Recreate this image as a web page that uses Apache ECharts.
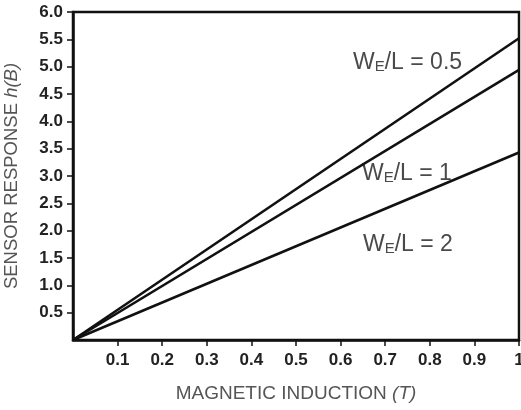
<!DOCTYPE html>
<html>
<head>
<meta charset="utf-8">
<script src="https://cdn.jsdelivr.net/npm/echarts@6/dist/echarts.min.js"></script>
<style>
html,body{margin:0;padding:0;background:#fff;}
#c{width:521px;height:410px;}
</style>
</head>
<body>
<div id="c"></div>
<script>
// Data
const xValues = [0, 1];
const seriesNames = ['0.5', '1', '2'];
const seriesValues = [
  [0, 5.52],
  [0, 4.94],
  [0, 3.43]
];
const xTicks = [0.1, 0.2, 0.3, 0.4, 0.5, 0.6, 0.7, 0.8, 0.9, 1];
const yTicks = [0.5, 1, 1.5, 2, 2.5, 3, 3.5, 4, 4.5, 5, 5.5, 6];
const labelPos = [ // label anchor (left, vertical middle) in pixels
  [353, 63],
  [362, 174],
  [363, 245]
];

const chart = echarts.init(document.getElementById('c'), null, {renderer: 'canvas'});
const font = '"Liberation Sans", Arial, sans-serif';

const series = seriesValues.map((vals, i) => ({
  type: 'line',
  name: seriesNames[i],
  data: xValues.map((x, j) => [x, vals[j]]),
  symbol: 'none',
  lineStyle: {color: '#111', width: 2.6},
  silent: true
}));

chart.setOption({
  animation: false,
  backgroundColor: '#fff',
  grid: {
    left: 73, right: 2, top: 12, bottom: 70,
    containLabel: false, outerBoundsMode: 'none',
    show: true, borderColor: '#111', borderWidth: 2.5, backgroundColor: 'transparent'
  },
  xAxis: {
    type: 'value', min: 0, max: 1, interval: 0.1,
    name: 'MAGNETIC INDUCTION {i|(T)}',
    nameLocation: 'middle', nameGap: 44,
    nameTextStyle: {
      fontFamily: font, fontSize: 19, color: '#555',
      rich: {i: {fontFamily: font, fontSize: 19, color: '#555', fontStyle: 'italic'}}
    },
    axisLine: {lineStyle: {color: '#111', width: 2.5}},
    axisTick: {inside: false, length: 6, customValues: xTicks, lineStyle: {color: '#111', width: 1.5}},
    splitLine: {show: false},
    axisLabel: {
      margin: 12, fontFamily: font, fontSize: 17, fontWeight: 'bold', color: '#222',
      customValues: xTicks, hideOverlap: false,
      formatter: v => (Math.abs(v - 1) < 1e-9 ? '1' : v.toFixed(1))
    }
  },
  yAxis: {
    type: 'value', min: 0, max: 6, interval: 0.5,
    name: 'SENSOR RESPONSE {i|h(B)}',
    nameLocation: 'middle', nameGap: 52, nameRotate: 90,
    nameTextStyle: {
      fontFamily: font, fontSize: 18.5, color: '#555',
      rich: {i: {fontFamily: font, fontSize: 18.5, color: '#555', fontStyle: 'italic'}}
    },
    axisLine: {lineStyle: {color: '#111', width: 2.5}},
    axisTick: {inside: false, length: 6, customValues: yTicks, lineStyle: {color: '#111', width: 1.5}},
    splitLine: {show: false},
    axisLabel: {
      margin: 10, fontFamily: font, fontSize: 17, fontWeight: 'bold', color: '#222',
      customValues: yTicks,
      formatter: v => v.toFixed(1)
    }
  },
  series: series,
  graphic: seriesNames.map((n, i) => ({
    type: 'text',
    left: labelPos[i][0],
    top: labelPos[i][1] - 12,
    silent: true,
    style: {
      text: '{w|W}{e|E}{w|/L = ' + n + '}',
      rich: {
        w: {fontFamily: font, fontSize: 23, lineHeight: 24, fill: '#4a4a4a', color: '#4a4a4a'},
        e: {fontFamily: font, fontSize: 15, lineHeight: 13, verticalAlign: 'bottom', fill: '#4a4a4a', color: '#4a4a4a'}
      }
    }
  }))
});
</script>
</body>
</html>
